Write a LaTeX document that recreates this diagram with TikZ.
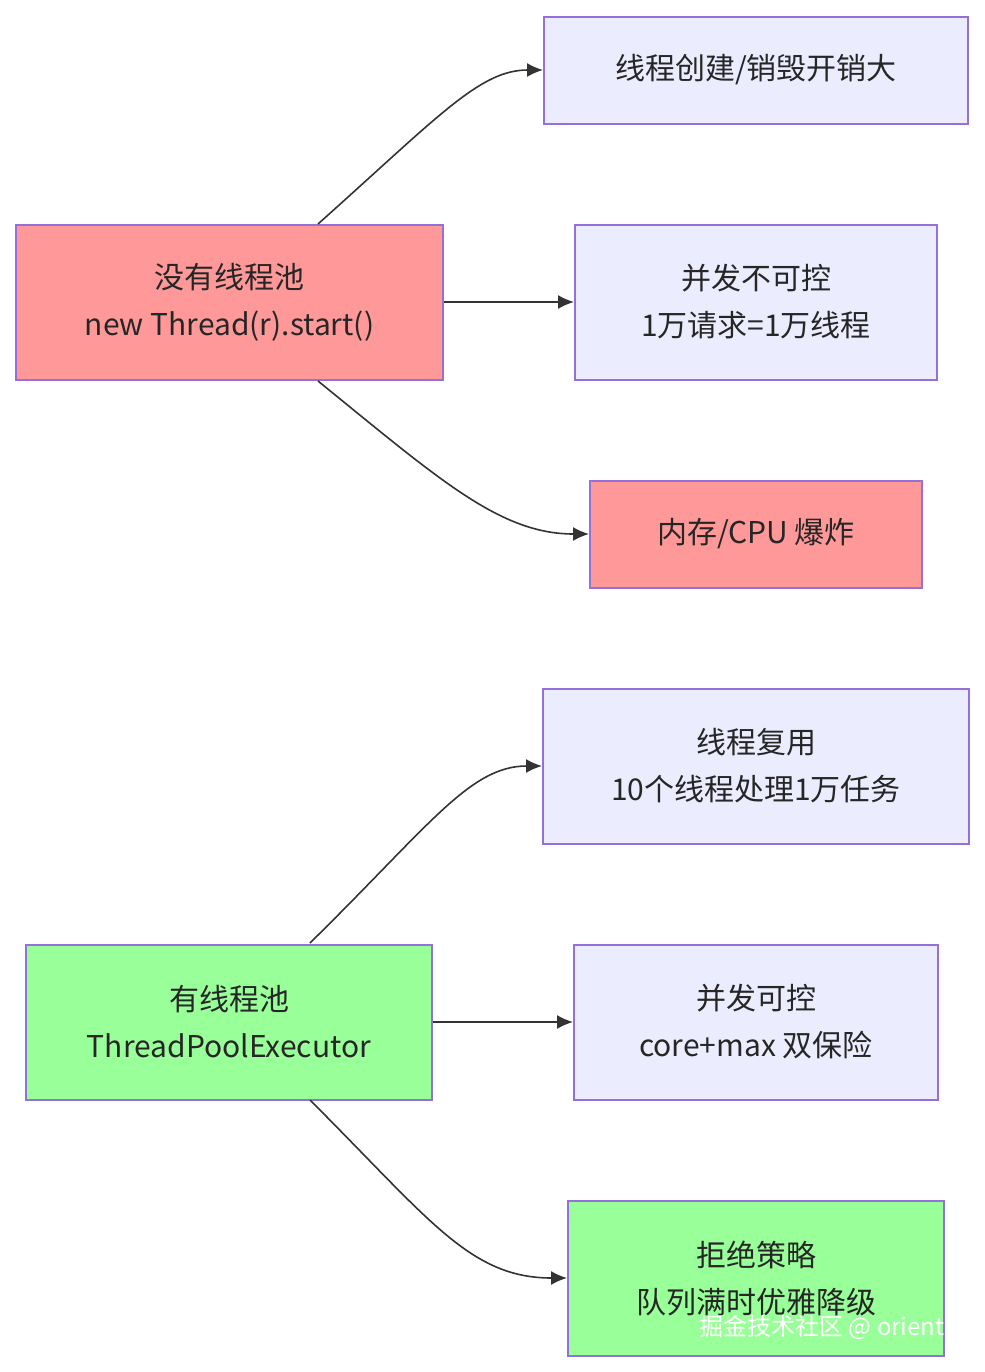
\documentclass[tikz,border=0pt]{standalone}
\usepackage{fontspec}
\setmainfont{Noto Sans CJK SC}
\usetikzlibrary{positioning, arrows.meta}
\definecolor{boxlav}{HTML}{ECECFF}
\definecolor{boxred}{HTML}{FF9999}
\definecolor{boxgreen}{HTML}{99FF99}
\definecolor{boxline}{HTML}{9370DB}
\definecolor{edgeline}{HTML}{333333}
\begin{document}
\begin{tikzpicture}[x=0.5pt, y=-0.5pt]
\tikzstyle{box}=[draw=boxline, line width=1pt, fill=boxlav, align=center, inner sep=0pt, text=black!85, font=\fontsize{15}{23.5}\selectfont]
\tikzstyle{edge}=[draw=edgeline, line width=0.8pt, -{Latex[length=8pt, width=7pt]}]
\useasboundingbox (0,0) rectangle (985,1372);
%% without pool
\node (nopool) at (229.5,302) [box, fill=boxred, minimum width=213.5pt, minimum height=77.5pt] {没有线程池\\new Thread(r).start()};
\node (cost) at (756,70) [box, minimum width=212pt, minimum height=53.5pt] {线程创建/销毁开销大};
\node (unctl) at (756,302) [box, minimum width=181pt, minimum height=77.5pt] {并发不可控\\1万请求=1万线程};
\node (boom) at (756,534) [box, fill=boxred, minimum width=166pt, minimum height=53.5pt] {内存/CPU 爆炸};
%% with pool
\node (pool) at (229,1022) [box, fill=boxgreen, minimum width=203pt, minimum height=77.5pt] {有线程池\\ThreadPoolExecutor};
\node (reuse) at (756,766) [box, minimum width=213pt, minimum height=77.5pt] {线程复用\\10个线程处理1万任务};
\node (ctl) at (756,1022) [box, minimum width=182pt, minimum height=77.5pt] {并发可控\\core+max 双保险};
\node (reject) at (756,1278) [box, fill=boxgreen, minimum width=188pt, minimum height=77.5pt] {拒绝策略\\队列满时优雅降级};

\draw [edge] (318,224) .. controls (440,115) and (480,70) .. (cost.west);
\draw [edge] (nopool.east |- unctl.west) -- (unctl.west);
\draw [edge] (318,381) .. controls (440,480) and (500,534) .. (boom.west);
\draw [edge] (310,943) .. controls (430,825) and (470,766) .. (reuse.west);
\draw [edge] (pool.east |- ctl.west) -- (ctl.west);
\draw [edge] (310,1100) .. controls (430,1220) and (470,1278) .. (reject.west);

\node (mark) at (822,1327) [text=white, font=\fontsize{12}{14}\selectfont] {掘金技术社区 @ orient};
\end{tikzpicture}
\end{document}
